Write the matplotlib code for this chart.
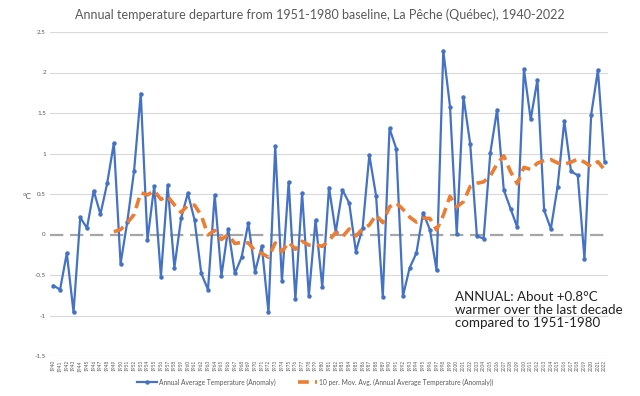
import numpy as np
import pandas as pd
import matplotlib
matplotlib.use("Agg")
import matplotlib.pyplot as plt


YEARS = list(range(1940, 2023))

ANOMALY = [
    -0.63, -0.68, -0.23, -0.96, 0.21, 0.08, 0.54, 0.25, 0.63, 1.13,
    -0.36, 0.16, 0.78, 1.74, -0.07, 0.60, -0.52, 0.61, -0.41, 0.20,
    0.51, 0.18, -0.48, -0.68, 0.49, -0.51, 0.07, -0.48, -0.28, 0.14,
    -0.46, -0.14, -0.96, 1.09, -0.58, 0.65, -0.80, 0.51, -0.76, 0.18,
    -0.65, 0.58, 0.03, 0.55, 0.39, -0.21, 0.08, 0.98, 0.48, -0.77,
    1.31, 1.06, -0.76, -0.41, -0.23, 0.27, 0.06, -0.44, 2.27, 1.58,
    0.01, 1.70, 1.12, -0.02, -0.05, 1.01, 1.54, 0.55, 0.32, 0.09,
    2.04, 1.42, 1.91, 0.30, 0.07, 0.59, 1.40, 0.78, 0.73, -0.30,
    1.48, 2.03, 0.89,
]

Y_TICKS = [-1.5, -1, -0.5, 0, 0.5, 1, 1.5, 2, 2.5]

TITLE = "Annual temperature departure from 1951-1980 baseline, La Pêche (Québec), 1940-2022"
NOTE = "ANNUAL: About +0.8°C\nwarmer over the last decade\ncompared to 1951-1980"

BLUE = "#4472C4"
ORANGE = "#ED7D31"
TEXT_GRAY = "#595959"

plt.rcParams["font.family"] = ["Lato", "DejaVu Sans"]


def main():
    df = pd.DataFrame({"year": YEARS, "anomaly": ANOMALY})
    # Excel-style 10 period moving average
    df["mov_avg"] = df["anomaly"].rolling(10).mean()
    x = np.arange(len(df))

    fig = plt.figure(figsize=(6.4, 3.96), dpi=100)
    ax = fig.add_axes([50 / 640, 40 / 396, 558 / 640, 324 / 396])

    for y in Y_TICKS:
        if y != 0:
            ax.axhline(y, color="#d9d9d9", linewidth=0.8, zorder=0)
    ax.axhline(0, color="#a6a6a6", linewidth=1.6, linestyle=(0, (6, 3)), zorder=1)

    ax.plot(x, df["anomaly"], color=BLUE, linewidth=1.6, marker="o",
            markersize=2.2, label="Annual Average Temperature (Anomaly)", zorder=3)
    ax.plot(x, df["mov_avg"], color=ORANGE, linewidth=2.6, linestyle=(0, (3, 1.7)),
            label="10 per. Mov. Avg. (Annual Average Temperature (Anomaly))", zorder=4)

    ax.set_xlim(-0.5, len(df) - 0.5)
    ax.set_ylim(-1.5, 2.5)
    ax.set_yticks(Y_TICKS)
    ax.set_yticklabels([f"{v:g}" for v in Y_TICKS], fontsize=4.5, color=TEXT_GRAY)
    ax.set_xticks(x)
    ax.set_xticklabels([str(y) for y in YEARS], rotation=90, fontsize=3.4, color=TEXT_GRAY)
    ax.tick_params(length=0, pad=3)
    for spine in ax.spines.values():
        spine.set_visible(False)

    fig.text(27 / 640, 1 - 197 / 396, "°C", fontsize=6, color=TEXT_GRAY,
             ha="center", va="center")
    fig.text(320 / 640, 1 - 15 / 396, TITLE, fontsize=9, color=TEXT_GRAY,
             ha="center", va="center")
    ax.text(455 / 640, 1 - 291 / 396, NOTE, transform=fig.transFigure,
            fontsize=9.6, color="#222222", ha="left", va="top", linespacing=1.12)

    fig.legend(loc="center", bbox_to_anchor=(0.493, 1 - 382 / 396), ncol=2,
               frameon=False, fontsize=4.8, handlelength=2.9, handletextpad=0.3,
               columnspacing=3.4, labelcolor=TEXT_GRAY)

    fig.savefig("out.png", dpi=100)
    plt.close(fig)


if __name__ == "__main__":
    main()
